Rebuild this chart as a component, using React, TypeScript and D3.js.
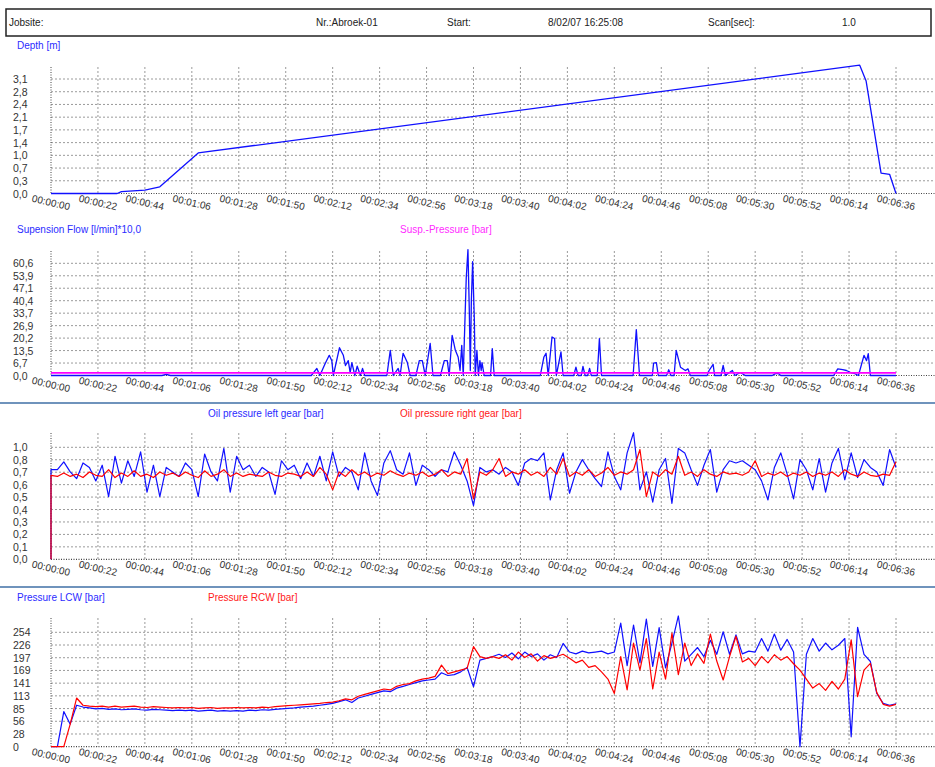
import React from 'react';
import * as d3 from 'd3';

const W = 935;
const H = 767;
const FONT = '"Liberation Sans", Arial, sans-serif';

// time axis (seconds), one label every 22 s
const timeLabels = ['00:00:00', '00:00:22', '00:00:44', '00:01:06', '00:01:28', '00:01:50', '00:02:12', '00:02:34', '00:02:56', '00:03:18',
  '00:03:40', '00:04:02', '00:04:24', '00:04:46', '00:05:08', '00:05:30', '00:05:52', '00:06:14', '00:06:36'];
const timeStep = 22;
const sampleStep = 3; // oil + pressure series sampled every 3 s

// y tick labels per panel
const depthTicks = ['0,0', '0,3', '0,7', '1,0', '1,4', '1,7', '2,1', '2,4', '2,8', '3,1'];
const flowTicks = ['0,0', '6,7', '13,5', '20,2', '26,9', '33,7', '40,4', '47,1', '53,9', '60,6'];
const oilTicks = ['0,0', '0,1', '0,2', '0,3', '0,4', '0,5', '0,6', '0,7', '0,8', '1,0'];
const pressureTicks = ['0', '28', '56', '85', '113', '141', '169', '197', '226', '254'];

// header
const headerItems = ['Jobsite:', 'Nr.:Abroek-01', 'Start:', '8/02/07 16:25:08', 'Scan[sec]:', '1.0'];

// depth [m]
const depthTimes = [0, 31, 33, 44, 51, 69, 379, 382, 389, 393, 396];
const depthValues = [0, 0, 0.05, 0.09, 0.18, 1.10, 3.48, 3.05, 0.55, 0.52, 0];

// suspension flow
const flowTimes = [0, 52, 54, 56, 122, 124.6, 126, 128.5, 130.4, 131.6, 132.3, 135.2, 137, 138, 139.3, 140.2, 141, 142.4, 143.5, 145, 146, 147,
  157.4, 159, 160.4, 162.7, 163.6, 165, 167, 168.3, 171, 172.6, 174, 175.4, 177.7, 179, 182.5, 184.3, 185.7, 186.6, 188, 189.5, 190.8, 191.7,
  192.5, 193.2, 194.6, 195.4, 196, 196.5, 197, 197.6, 198.4, 198.8, 199.6, 200.3, 201, 201.6, 202, 203, 206, 206.8, 207.7,
  229.3, 231, 232, 233, 234.8, 236, 236.8, 239, 240, 245, 246, 247, 248.5, 249.3, 250.3, 251.5, 252.4, 253.2, 256, 257, 258,
  272.8, 274.3, 275.8, 281.8, 282.4, 283.7, 284.6, 288.5, 289.5, 290.5, 292, 293, 295, 297.3, 298.5, 299.6, 307.5, 308.4, 310.3, 311,
  314, 315, 316, 319.3, 320.5, 323, 325.4, 338, 339.5, 341, 342, 366.8, 368.7, 371, 372.8, 374.7, 376.5, 378.4, 381, 382.2, 383, 384, 396];
const flowValues = [0, 0, 0.6, 0, 0, 3.8, 0, 6.5, 10.9, 8, 0, 15, 10.9, 5.4, 8, 1.6, 7, 0, 5, 0, 3.8, 0,
  0, 13.6, 0, 3.8, 0, 12, 7, 0, 0, 8, 8, 0, 17.4, 0, 0, 8, 8, 0, 21.7, 13.6, 10, 2.7,
  16.3, 0, 52.7, 68, 37, 2.7, 40.7, 61.5, 30, 0, 13.6, 0, 8, 2.7, 7, 0, 0, 14.5, 0,
  0, 10, 12, 0, 20.8, 20, 0, 12.7, 0, 0, 4.5, 0, 0, 4.9, 0, 0, 3.8, 0, 0, 19.9, 0,
  0, 24.8, 0, 0, 6.7, 7, 0, 0, 3.1, 0, 0, 13.6, 4.5, 2.7, 3.6, 0, 0, 2.7, 6, 0,
  0, 5.4, 0, 2.7, 0, 1.6, 0, 0, 1, 1, 0, 0, 3.6, 3.2, 2.7, 1.6, 1.1, 0, 10.9, 8, 11.8, 0, 0];
const suspPressureTimes = [0, 396];
const suspPressureValues = [1.4, 1.4];

// oil pressure [bar], every 3 s
const oilLeft = [0.80, 0.80, 0.87, 0.78, 0.72, 0.86, 0.82, 0.70, 0.84, 0.56, 0.92, 0.68, 0.88, 0.74, 0.96, 0.60, 0.84, 0.56, 0.82, 0.78,
  0.74, 0.86, 0.80, 0.56, 0.94, 0.78, 0.70, 0.99, 0.60, 0.92,
  0.80, 0.84, 0.74, 0.82, 0.78, 0.58, 0.88, 0.80, 0.84, 0.72,
  0.86, 0.74, 0.92, 0.70, 0.96, 0.74, 0.82, 0.78, 0.62, 0.95,
  0.70, 0.57, 0.86, 0.97, 0.80, 0.76, 0.95, 0.66, 0.84, 0.80,
  0.74, 0.80, 0.78, 0.96, 0.84, 0.70, 0.48, 0.82, 0.78, 0.80,
  0.76, 0.82, 0.78, 0.66, 0.86, 0.90, 0.88, 0.95, 0.53, 0.80,
  0.95, 0.59, 0.78, 0.89, 0.80, 0.72, 0.65, 0.96, 0.74, 0.62,
  0.95, 1.13, 0.62, 0.78, 0.51, 0.80, 0.90, 0.50, 0.99, 0.95,
  0.80, 0.66, 0.84, 0.98, 0.60, 0.80, 0.88, 0.86, 0.88, 0.84,
  0.80, 0.70, 0.53, 0.82, 0.95, 0.76, 0.54, 0.89, 0.80, 0.62,
  0.90, 0.60, 0.86, 0.99, 0.71, 0.95, 0.73, 0.89, 0.82, 0.78,
  0.66, 0.98, 0.82];
const oilRight = [0.75, 0.74, 0.77, 0.74, 0.76, 0.73, 0.78, 0.75, 0.74, 0.80, 0.73, 0.77, 0.74, 0.79, 0.74, 0.76, 0.73, 0.78, 0.75, 0.77,
  0.74, 0.78, 0.75, 0.73, 0.79, 0.74, 0.76, 0.80, 0.74, 0.77,
  0.74, 0.76, 0.75, 0.74, 0.78, 0.75, 0.74, 0.77, 0.76, 0.74,
  0.78, 0.74, 0.82, 0.76, 0.62, 0.78, 0.74, 0.80, 0.75, 0.78,
  0.74, 0.77, 0.75, 0.79, 0.76, 0.74, 0.77, 0.75, 0.78, 0.74,
  0.76, 0.80, 0.74, 0.78, 0.76, 0.90, 0.54, 0.78, 0.75, 0.80,
  0.90, 0.74, 0.78, 0.76, 0.80, 0.75, 0.78, 0.74, 0.82, 0.76,
  0.90, 0.74, 0.78, 0.75, 0.80, 0.74, 0.77, 0.82, 0.75, 0.78,
  0.76, 0.80, 0.98, 0.56, 0.78, 0.74, 0.80, 0.76, 0.92, 0.75,
  0.78, 0.74, 0.80, 0.76, 0.74, 0.78, 0.76, 0.77, 0.75, 0.78,
  0.88, 0.74, 0.77, 0.75, 0.78, 0.74, 0.77, 0.75, 0.78, 0.74,
  0.77, 0.75, 0.78, 0.74, 0.80, 0.76, 0.74, 0.78, 0.75, 0.74,
  0.76, 0.75, 0.87];

// pressure LCW / RCW [bar], every 3 s
const pressureLCW = [0, 0, 78, 50, 92, 88, 86, 84, 85, 83,
  84, 82, 83, 84, 82, 81, 83, 82, 81, 80,
  81, 80, 81, 79, 80, 81, 79, 80, 79, 80,
  79, 81, 80, 82, 81, 83, 84, 85, 86, 88,
  89, 90, 92, 94, 96, 100, 104, 98, 108, 112,
  116, 120, 124, 122, 130, 134, 138, 142, 146, 148,
  150, 164, 158, 160, 166, 176, 133, 192, 196, 200,
  205, 198, 208, 195, 210, 200, 206, 192, 204, 198,
  229, 210, 206, 212, 208, 210, 212, 206, 210, 274,
  180, 270, 186, 283, 178, 264, 175, 230, 290, 190,
  205, 220, 200, 236, 205, 255, 205, 248, 206, 212,
  210, 240, 212, 250, 214, 238, 210, 0, 205, 240,
  212, 230, 215, 225, 240, 22, 265, 205, 189, 118,
  96, 92, 95];
const pressureRCW = [0, 0, 0, 50, 108, 92, 90, 89, 90, 88,
  90, 88, 89, 90, 88, 87, 89, 88, 87, 86,
  87, 86, 87, 85, 86, 87, 85, 86, 86, 87,
  86, 87, 86, 88, 87, 89, 90, 91, 92, 93,
  94, 95, 96, 98, 99, 102, 106, 104, 112, 116,
  120, 124, 128, 126, 134, 138, 140, 146, 150, 152,
  156, 181, 162, 166, 170, 174, 222, 200, 196, 200,
  196, 204, 192, 210, 198, 206, 190, 202, 196, 200,
  205, 196, 186, 192, 176, 180, 166, 150, 118, 200,
  126, 230, 170, 240, 128, 210, 150, 252, 160, 230,
  180, 206, 185, 250, 190, 148, 200, 245, 188, 196,
  180, 200, 186, 204, 192, 200, 184, 170, 150, 130,
  140, 125, 145, 128, 150, 237, 111, 170, 185, 120,
  94, 90, 94];

type Pt = [number, number];
const zip = (ts: number[], vs: number[]): Pt[] => ts.map((t, i) => [t, vs[i]]);
const sampled = (vs: number[], fromZero: boolean): Pt[] => {
  const pts: Pt[] = vs.map((v, i) => [i * sampleStep, v]);
  return fromZero ? [[0, 0], ...pts] : pts;
};

const x = d3.scaleLinear().domain([0, timeStep * (timeLabels.length - 1)]).range([51, 896]);

interface Series { data: Pt[]; color: string; width: number }
interface Legend { text: string; color: string; x: number }
interface Panel {
  top: number; base: number; tickTop: number;
  ticks: string[]; step: number;
  legendY: number; legends: Legend[]; series: Series[];
}

const panels: Panel[] = [
  {
    top: 67, base: 193.5, tickTop: 79, ticks: depthTicks, step: 0.345, legendY: 45,
    legends: [{ text: 'Depth [m]', color: '#2b2bff', x: 17 }],
    series: [{ data: zip(depthTimes, depthValues), color: '#1010ff', width: 1.3 }]
  },
  {
    top: 251, base: 375.5, tickTop: 263.3, ticks: flowTicks, step: 6.733, legendY: 229,
    legends: [
      { text: 'Supension Flow [l/min]*10,0', color: '#2b2bff', x: 17 },
      { text: 'Susp.-Pressure [bar]', color: '#ff2bff', x: 400 }
    ],
    series: [
      { data: zip(flowTimes, flowValues), color: '#1010ff', width: 1.3 },
      { data: zip(suspPressureTimes, suspPressureValues), color: '#ff00ff', width: 1.8 }
    ]
  },
  {
    top: 433, base: 559.3, tickTop: 447.3, ticks: oilTicks, step: 1 / 9, legendY: 413,
    legends: [
      { text: 'Oil pressure left gear [bar]', color: '#2b2bff', x: 208 },
      { text: 'Oil pressure right gear [bar]', color: '#ff2020', x: 400 }
    ],
    series: [
      { data: sampled(oilLeft, true), color: '#1010ff', width: 1.2 },
      { data: sampled(oilRight, true), color: '#ff0000', width: 1.2 }
    ]
  },
  {
    top: 618, base: 746.7, tickTop: 632.3, ticks: pressureTicks, step: 28.2, legendY: 597,
    legends: [
      { text: 'Pressure LCW [bar]', color: '#2b2bff', x: 17 },
      { text: 'Pressure RCW [bar]', color: '#ff2020', x: 208 }
    ],
    series: [
      { data: sampled(pressureLCW, false), color: '#1010ff', width: 1.2 },
      { data: sampled(pressureRCW, false), color: '#ff0000', width: 1.2 }
    ]
  }
];

function ChartPanel({ p }: { p: Panel }) {
  const y = d3.scaleLinear().domain([0, p.step * (p.ticks.length - 1)]).range([p.base, p.tickTop]);
  const line = d3.line<Pt>().x(d => x(d[0])).y(d => y(d[1]));
  const [x0] = x.range();
  return (
    <g>
      {p.legends.map(l => (
        <text key={l.text} x={l.x} y={p.legendY} fill={l.color} fontSize={10} dominantBaseline="central">{l.text}</text>
      ))}
      {/* horizontal grid */}
      {p.ticks.map((t, i) => i === 0 ? null : (
        <line key={'h' + i} x1={x0} x2={W} y1={y(i * p.step)} y2={y(i * p.step)}
          stroke="#9a9a9a" strokeWidth={1} strokeDasharray="2,2" />
      ))}
      {/* vertical grid */}
      {timeLabels.map((t, i) => i === 0 ? null : (
        <line key={'v' + i} x1={x(i * timeStep)} x2={x(i * timeStep)} y1={p.top} y2={p.base}
          stroke="#9a9a9a" strokeWidth={1} strokeDasharray="2,2" />
      ))}
      {/* axes */}
      <line x1={x0} x2={x0} y1={p.top} y2={p.base} stroke="#444" strokeWidth={1} strokeDasharray="1,1.5" />
      <line x1={x0} x2={W} y1={p.base} y2={p.base} stroke="#444" strokeWidth={1.2} strokeDasharray="1,1.5" />
      {/* y tick labels */}
      {p.ticks.map((t, i) => (
        <text key={'yl' + i} x={13} y={y(i * p.step)} fontSize={10.5} fill="#333" dominantBaseline="central">{t}</text>
      ))}
      {/* x tick labels */}
      {timeLabels.map((t, i) => {
        const tx = x(i * timeStep);
        const ty = p.base + 9;
        return (
          <text key={'xl' + i} x={tx} y={ty} fontSize={10} fill="#333" textAnchor="middle" dominantBaseline="central"
            transform={`rotate(13,${tx},${ty})`}>{t}</text>
        );
      })}
      {/* series */}
      {p.series.map((s, i) => (
        <path key={'s' + i} d={line(s.data) || ''} fill="none" stroke={s.color} strokeWidth={s.width} strokeLinejoin="round" />
      ))}
    </g>
  );
}

export default function App() {
  const headerX = [9, 316, 447, 548, 708, 842];
  return (
    <svg width={W} height={H} style={{ position: 'absolute', left: 0, top: 0, background: '#fff' }} fontFamily={FONT}>
      <rect x={0} y={0} width={W} height={H} fill="#fff" />
      <rect x={6} y={9} width={925} height={27} fill="none" stroke="#222" strokeWidth={1.5} />
      {headerItems.map((h, i) => (
        <text key={h} x={headerX[i]} y={22.5} fontSize={10} fill="#222" dominantBaseline="central">{h}</text>
      ))}
      <line x1={0} x2={W} y1={403} y2={403} stroke="#3f6fa6" strokeWidth={1.6} />
      <line x1={0} x2={W} y1={587} y2={587} stroke="#3f6fa6" strokeWidth={1.6} />
      {panels.map((p, i) => <ChartPanel key={i} p={p} />)}
    </svg>
  );
}
